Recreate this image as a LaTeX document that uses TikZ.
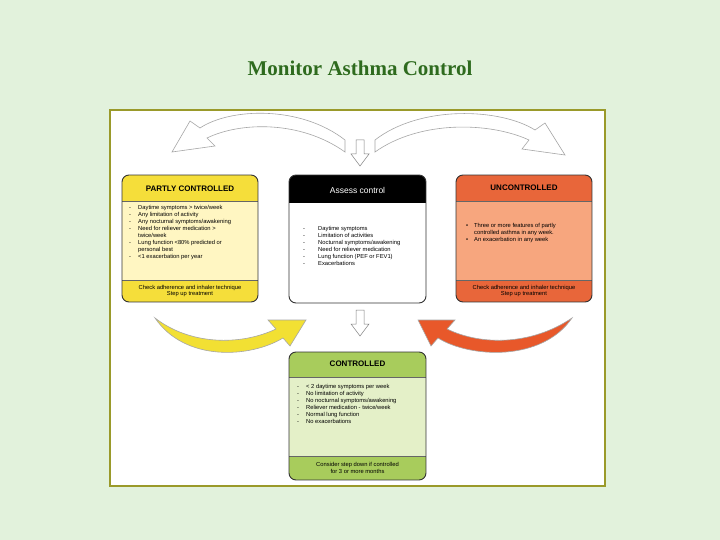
\documentclass[tikz,border=0pt]{standalone}
\usepackage{fontspec}
\setmainfont{Liberation Sans}
\newfontfamily\titlefont{Liberation Serif}
\definecolor{bg}{HTML}{E2F2DC}
\definecolor{frameol}{HTML}{9A9A2A}
\definecolor{ttl}{HTML}{2E6B1E}
\definecolor{yhead}{HTML}{F5DE3A}
\definecolor{ybody}{HTML}{FFF6C2}
\definecolor{ohead}{HTML}{E8663A}
\definecolor{obody}{HTML}{F7A67E}
\definecolor{ghead}{HTML}{A8CC5C}
\definecolor{gbody}{HTML}{E4F0C8}
\definecolor{yarrow}{HTML}{F2E033}
\definecolor{oarrow}{HTML}{E8582A}
\tikzset{
 boxframe/.style={draw=black!80,line width=0.9pt,rounded corners=7pt},
 hdr/.style={font=\fontsize{8}{9}\selectfont\bfseries,anchor=center},
 body/.style={font=\fontsize{5.8}{7}\selectfont,anchor=north west,align=left,inner sep=0pt},
 foot/.style={font=\fontsize{5.8}{6.8}\selectfont,align=center,anchor=center},
 hollow/.style={draw=gray,fill=white,line width=0.5pt},
 band/.style={draw=gray!70,line width=0.6pt}
}
\newcommand{\itm}[1]{\makebox[9pt][l]{-}#1\\}
\begin{document}
\begin{tikzpicture}[x=1pt,y=-1pt]
\fill[bg] (0,0) rectangle (720,540);
\node[font=\titlefont\fontsize{21}{25}\selectfont\bfseries,text=ttl] (title) at (360,68) {Monitor Asthma Control};
\draw[frameol,line width=1.2pt,fill=white] (110,110) rectangle (605,486);
% top arrows
\draw[band,fill=white] (345,140) .. controls (300,105) and (230,108) .. (200,128) -- (190,121) -- (172,152) -- (215,146) -- (207,138) .. controls (240,122) and (300,120) .. (345,152) -- cycle;
\draw[band,fill=white] (375,140) .. controls (420,105) and (500,108) .. (535,130) -- (545,123) -- (565,155) -- (522,149) -- (529,140) .. controls (490,122) and (420,120) .. (375,152) -- cycle;
% bottom arrows
\draw[band,fill=yarrow] (155,318) .. controls (185,362) and (250,358) .. (283,338) -- (290,346) -- (306,320) -- (268,320) -- (276,329) .. controls (240,346) and (190,345) .. (155,318) -- cycle;
\draw[band,fill=oarrow] (572,318) .. controls (542,362) and (470,358) .. (438,338) -- (431,346) -- (418,320) -- (455,320) -- (447,329) .. controls (482,346) and (532,345) .. (572,318) -- cycle;
% small hollow arrows
\draw[hollow] (356,140) -- (364,140) -- (364,154) -- (369,154) -- (360,166) -- (351,154) -- (356,154) -- cycle;
\draw[hollow] (356,310) -- (364,310) -- (364,324) -- (369,324) -- (360,336) -- (351,324) -- (356,324) -- cycle;
% PARTLY CONTROLLED
\begin{scope}
\clip[rounded corners=7pt] (122,175) rectangle (258,302);
\fill[ybody] (122,175) rectangle (258,302);
\fill[yhead] (122,175) rectangle (258,201);
\fill[yhead] (122,280) rectangle (258,302);
\draw[black!60] (122,201) -- (258,201) (122,280) -- (258,280);
\end{scope}
\draw[boxframe] (122,175) rectangle (258,302);
\node[hdr] (pc) at (190,189) {PARTLY CONTROLLED};
\node[body] (pcb) at (129,205) {\itm{Daytime symptoms > twice/week}\itm{Any limitation of activity}\itm{Any nocturnal symptoms/awakening}\itm{Need for reliever medication >}\makebox[9pt]{}twice/week\\\itm{Lung function <80\% predicted or}\makebox[9pt]{}personal best\\\itm{<1 exacerbation per year}};
\node[foot] (pcf) at (190,291) {Check adherence and inhaler technique\\Step up treatment};
% ASSESS
\begin{scope}
\clip[rounded corners=7pt] (289,175) rectangle (426,303);
\fill[white] (289,175) rectangle (426,303);
\fill[black] (289,175) rectangle (426,203);
\end{scope}
\draw[boxframe] (289,175) rectangle (426,303);
\node[hdr,font=\fontsize{8.5}{10}\selectfont,text=white] (ac) at (357.5,190) {Assess control};
\node[body] (acb) at (303,226) {\makebox[15pt][l]{-}Daytime symptoms\\\makebox[15pt][l]{-}Limitation of activities\\\makebox[15pt][l]{-}Nocturnal symptoms/awakening\\\makebox[15pt][l]{-}Need for reliever medication\\\makebox[15pt][l]{-}Lung function (PEF or FEV1)\\\makebox[15pt][l]{-}Exacerbations\\};
% UNCONTROLLED
\begin{scope}
\clip[rounded corners=7pt] (456,175) rectangle (592,302);
\fill[obody] (456,175) rectangle (592,302);
\fill[ohead] (456,175) rectangle (592,201);
\fill[ohead] (456,280) rectangle (592,302);
\draw[black!60] (456,201) -- (592,201) (456,280) -- (592,280);
\end{scope}
\draw[boxframe] (456,175) rectangle (592,302);
\node[hdr] (uc) at (524,188) {UNCONTROLLED};
\node[body] (ucb) at (466,223) {\makebox[8pt][l]{•}Three or more features of partly\\\makebox[8pt]{}controlled asthma in any week.\\\makebox[8pt][l]{•}An exacerbation in any week\\};
\node[foot] (ucf) at (524,291) {Check adherence and inhaler technique\\Step up treatment};
% CONTROLLED
\begin{scope}
\clip[rounded corners=7pt] (289,352) rectangle (426,480);
\fill[gbody] (289,352) rectangle (426,480);
\fill[ghead] (289,352) rectangle (426,377);
\fill[ghead] (289,456) rectangle (426,480);
\draw[black!60] (289,377) -- (426,377) (289,456) -- (426,456);
\end{scope}
\draw[boxframe] (289,352) rectangle (426,480);
\node[hdr] (co) at (357.5,364) {CONTROLLED};
\node[body] (cob) at (297,384) {\itm{< 2 daytime symptoms per week}\itm{No limitation of activity}\itm{No nocturnal symptoms/awakening}\itm{Reliever medication - twice/week}\itm{Normal lung function}\itm{No exacerbations}};
\node[foot] (cof) at (357.5,468) {Consider step down if controlled\\for 3 or more months};
\end{tikzpicture}
\end{document}
